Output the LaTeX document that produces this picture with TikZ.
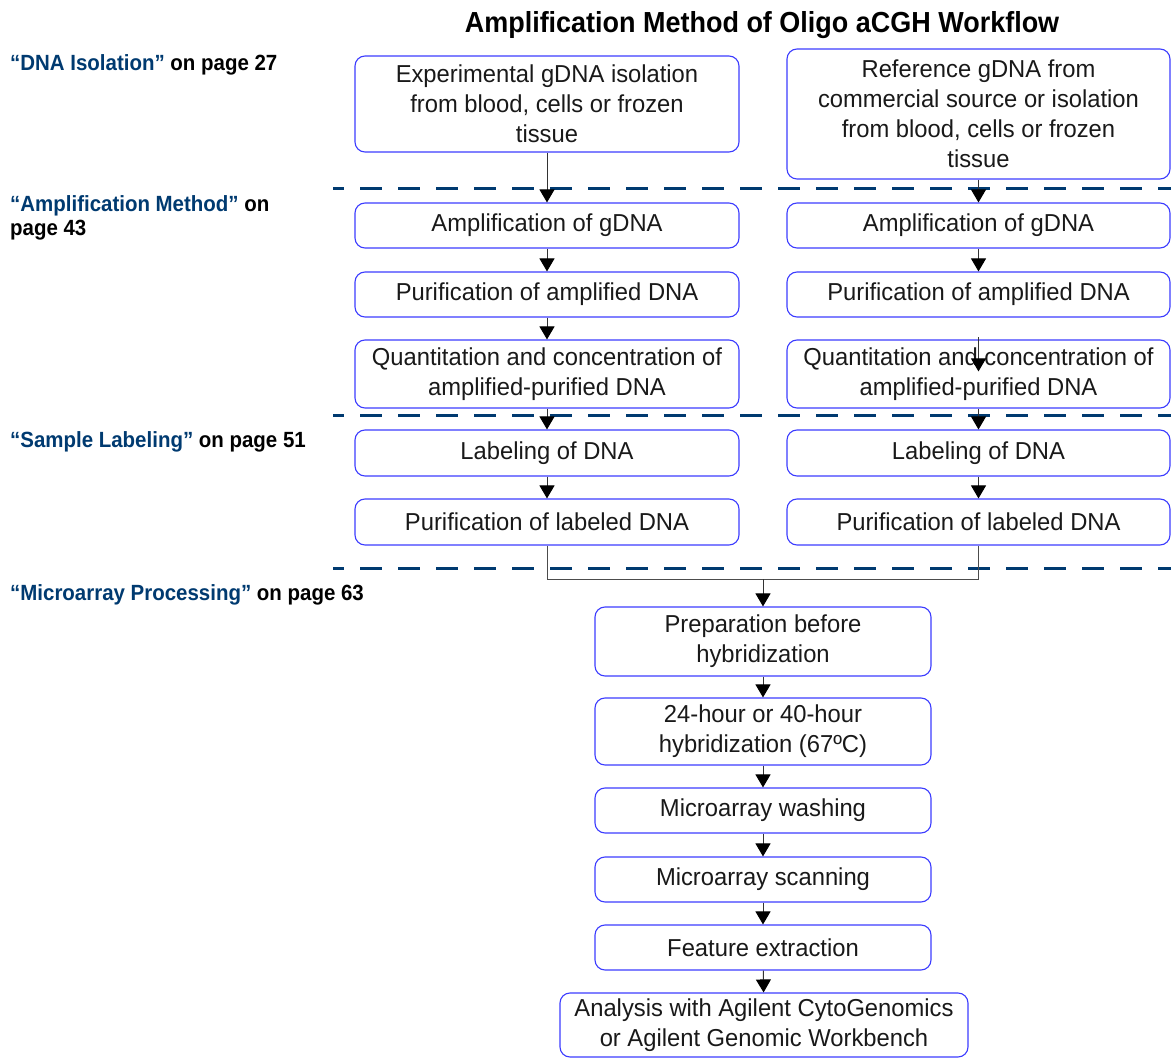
\documentclass[tikz,border=0pt]{standalone}
\usepackage{fontspec}
\setmainfont{Liberation Sans}
\newfontfamily\condfont[FakeStretch=0.97]{Liberation Sans}
\newfontfamily\condbold[FakeStretch=0.93]{Liberation Sans Bold}
\usetikzlibrary{arrows.meta}
\definecolor{navy}{RGB}{0,58,112}
\definecolor{boxblue}{RGB}{60,60,255}
\tikzset{
  box/.style={draw=boxblue, line width=1.1pt, rounded corners=10pt, align=center,
    font=\condfont\fontsize{24.5}{30}\selectfont, inner sep=0pt, text=black!90},
  arr/.style={draw=black!80, line width=1pt, -{Triangle[width=15pt,length=13pt,color=black,fill=black]}},
  plain/.style={draw=black!70, line width=1pt},
  sepline/.style={draw=navy, line width=3pt, dash pattern=on 22pt off 16pt, dash phase=11pt},
  lbl/.style={anchor=base west, inner sep=0pt, font=\condbold\fontsize{22}{24}\selectfont, text=black},
}
\begin{document}
\begin{tikzpicture}[x=1pt,y=-1pt]
\useasboundingbox (0,0) rectangle (1171,1059);
% title
\node[anchor=base, inner sep=0pt, font=\condbold\fontsize{29}{32}\selectfont] (title) at (762,33) {Amplification Method of Oligo aCGH Workflow};
% left labels
\node[lbl] (lab1) at (10,71) {\textcolor{navy}{“DNA Isolation”} on page 27};
\node[lbl] (lab2a) at (10,212) {\textcolor{navy}{“Amplification Method”} on};
\node[lbl] (lab2b) at (10,236) {page 43};
\node[lbl] (lab3) at (10,448) {\textcolor{navy}{“Sample Labeling”} on page 51};
\node[lbl] (lab4) at (10,600) {\textcolor{navy}{“Microarray Processing”} on page 63};
% separators
\coordinate (s1a) at (333,189); \coordinate (s1b) at (1171,189);
\coordinate (s2a) at (333,416); \coordinate (s2b) at (1171,416);
\coordinate (s3a) at (333,568); \coordinate (s3b) at (1171,568);
\draw[sepline] (s1a) -- (s1b);
\draw[sepline] (s2a) -- (s2b);
\draw[sepline] (s3a) -- (s3b);
% left column
\node[box, minimum width=384pt, minimum height=96pt] (L1) at (547,104) {Experimental gDNA isolation\\from blood, cells or frozen\\tissue};
\node[box, minimum width=384pt, minimum height=45pt] (L2) at (547,225.5) {Amplification of gDNA};
\node[box, minimum width=384pt, minimum height=45pt] (L3) at (547,294.5) {Purification of amplified DNA};
\node[box, minimum width=384pt, minimum height=68pt] (L4) at (547,374) {Quantitation and concentration of\\amplified-purified DNA};
\node[box, minimum width=384pt, minimum height=46pt] (L5) at (547,453) {Labeling of DNA};
\node[box, minimum width=384pt, minimum height=46pt] (L6) at (547,522) {Purification of labeled DNA};
% right column
\node[box, minimum width=383pt, minimum height=130pt] (R1) at (978.5,114) {Reference gDNA from\\commercial source or isolation\\from blood, cells or frozen\\tissue};
\node[box, minimum width=383pt, minimum height=45pt] (R2) at (978.5,225.5) {Amplification of gDNA};
\node[box, minimum width=383pt, minimum height=45pt] (R3) at (978.5,294.5) {Purification of amplified DNA};
\node[box, minimum width=383pt, minimum height=68pt] (R4) at (978.5,374) {Quantitation and concentration of\\amplified-purified DNA};
\node[box, minimum width=383pt, minimum height=46pt] (R5) at (978.5,453) {Labeling of DNA};
\node[box, minimum width=383pt, minimum height=46pt] (R6) at (978.5,522) {Purification of labeled DNA};
% center column
\node[box, minimum width=336pt, minimum height=69pt] (C1) at (763,641.5) {Preparation before\\hybridization};
\node[box, minimum width=336pt, minimum height=67pt] (C2) at (763,731.5) {24-hour or 40-hour\\hybridization (67ºC)};
\node[box, minimum width=336pt, minimum height=45pt] (C3) at (763,810.5) {Microarray washing};
\node[box, minimum width=336pt, minimum height=45pt] (C4) at (763,879.5) {Microarray scanning};
\node[box, minimum width=336pt, minimum height=45pt] (C5) at (763,947.5) {Feature extraction};
\node[box, minimum width=408pt, minimum height=64pt] (C6) at (764,1025) {Analysis with Agilent CytoGenomics\\or Agilent Genomic Workbench};
% arrows left
\draw[arr] (L1) -- (L2);
\draw[arr] (L2) -- (L3);
\draw[arr] (L3) -- (L4);
\draw[arr] (L4) -- (L5);
\draw[arr] (L5) -- (L6);
% arrows right
\draw[arr] (R1) -- (R2);
\draw[arr] (R2) -- (R3);
\draw[arr] ([yshift=2pt]R4.north) -- ([yshift=-32pt]R4.north);
\draw[arr] (R4) -- (R5);
\draw[arr] (R5) -- (R6);
% merge
\coordinate (m) at (763,579);
\draw[plain] (L6.south) |- (m);
\draw[plain] (R6.south) |- (m);
\draw[arr] (m) -- (C1.north);
% center arrows
\draw[arr] (C1) -- (C2);
\draw[arr] (C2) -- (C3);
\draw[arr] (C3) -- (C4);
\draw[arr] (C4) -- (C5);
\draw[arr] (C5) -- (C6);
\end{tikzpicture}
\end{document}
